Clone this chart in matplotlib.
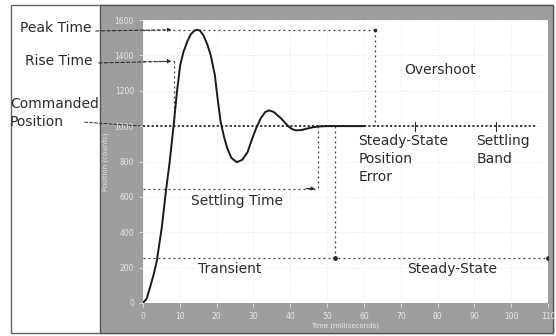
import matplotlib
matplotlib.use("Agg")
import matplotlib.pyplot as plt
from matplotlib.patches import Rectangle

# step response (time in ms, position in counts)
time_ms = [0, 1, 1.9, 3, 3.75, 5.1, 6.3, 7.2, 8.3, 9.2, 10.1, 11, 12, 13, 14,
           14.7, 15.5, 16.5, 17.5, 18.4, 19.5, 20.3, 21.1, 22, 22.9, 24, 25.5,
           27, 28.4, 29.5, 30.7, 32, 33.2, 34.3, 35.5, 36.5, 37.5, 38.6, 39.7,
           40.6, 41.6, 43, 44.8, 46, 47.6, 50, 60]
position = [0, 25, 87, 170, 238, 427, 645, 790, 1000, 1190, 1345, 1420, 1477,
            1520, 1540, 1545, 1540, 1510, 1460, 1400, 1290, 1150, 1023, 940,
            874, 820, 796, 810, 853, 920, 987, 1045, 1080, 1089, 1080, 1062,
            1044, 1018, 995, 982, 976, 978, 987, 993, 998, 1000, 1000]

commanded = 1000
peak_level = 1545
rise_level = 1367
settle_level = 647
transient_level = 255
rise_t = 8.3
settle_t = 47.5
steady_t = 52.2
overshoot_t = 63
band_marks = [74, 96]

x_ticks = list(range(0, 111, 10))
y_ticks = list(range(0, 1601, 200))

W, H = 556, 336
GRAY = "#9e9e9e"
INK = "#2b2b2b"


def fx(x):
    return x / W


def fy(y):
    return 1 - y / H


fig = plt.figure(figsize=(W / 100, H / 100), dpi=100)
fig.patch.set_facecolor("white")

# outer frame and gray chart panel
fig.add_artist(Rectangle((fx(11), fy(333)), fx(542), 328 / H, transform=fig.transFigure,
                         facecolor="white", edgecolor="#666666", lw=1.0, zorder=-2))
fig.add_artist(Rectangle((fx(100), fy(333)), fx(453), 328 / H, transform=fig.transFigure,
                         facecolor=GRAY, edgecolor="#555555", lw=1.0, zorder=-1))

ax = fig.add_axes([fx(143), fy(303), fx(548 - 143), (303 - 20) / H])
ax.set_facecolor("white")
ax.set_xlim(0, 110)
ax.set_ylim(0, 1600)
ax.set_xticks(x_ticks)
ax.set_yticks(y_ticks)
ax.tick_params(colors="#e6e6e6", labelsize=5.5, length=3, width=0.6)
for s in ax.spines.values():
    s.set_visible(False)
ax.grid(True, color="#e4e4e4", lw=0.5, ls=(0, (2, 3)))
ax.set_xlabel("Time (milliseconds)", fontsize=5, color="#e6e6e6", labelpad=1)
ax.set_ylabel("Position (counts)", fontsize=5, color="#e6e6e6", labelpad=4)

dot = dict(color="#3a3a3a", lw=0.9, ls=(0, (1.5, 2.5)))

# commanded position line
ax.plot([0, 107], [commanded, commanded], color=INK, lw=1.3, ls=(0, (1.2, 1.2)), zorder=3)
for t in band_marks:
    ax.plot([t, t], [commanded - 25, commanded + 25], color=INK, lw=0.8, zorder=3)

# response curve
ax.plot(time_ms, position, color="#1a1a1a", lw=1.4, zorder=4)

# peak / overshoot
ax.plot([0, overshoot_t], [peak_level, peak_level], **dot)
ax.plot([overshoot_t, overshoot_t], [peak_level, commanded], **dot)
ax.plot(overshoot_t, peak_level, "s", ms=2, color=INK)
# rise time
ax.plot([0, rise_t], [rise_level, rise_level], **dot)
ax.plot([rise_t, rise_t], [rise_level, commanded], **dot)
# settling time
ax.plot([0, settle_t], [settle_level, settle_level], **dot)
ax.plot([settle_t, settle_t], [commanded, settle_level], **dot)
ax.annotate("", xy=(settle_t, settle_level), xytext=(settle_t - 4, settle_level),
            arrowprops=dict(arrowstyle="-|>", color=INK, lw=0.8, mutation_scale=5))
# transient / steady-state
ax.plot([0, 110], [transient_level, transient_level], **dot)
ax.plot([steady_t, steady_t], [commanded, transient_level], **dot)
ax.plot([steady_t, 110], [transient_level, transient_level], "o", ms=2.5, color=INK)

fs = 10
ax.text(80.7, 1316, "Overshoot", fontsize=fs, color=INK, ha="center", va="center")
ax.text(58.5, 958, "Steady-State\nPosition\nError", fontsize=fs, color=INK,
        ha="left", va="top", linespacing=1.4)
ax.text(90.5, 958, "Settling\nBand", fontsize=fs, color=INK, ha="left", va="top",
        linespacing=1.4)
ax.text(25.5, 579, "Settling Time", fontsize=fs, color=INK, ha="center", va="center")
ax.text(23.5, 193, "Transient", fontsize=fs, color=INK, ha="center", va="center")
ax.text(84, 193, "Steady-State", fontsize=fs, color=INK, ha="center", va="center")

# labels on the left with dashed leaders (tucked under the gray panel edge)
fig.text(fx(20), fy(28), "Peak Time", fontsize=fs, color=INK, va="center")
fig.text(fx(25), fy(61), "Rise Time", fontsize=fs, color=INK, va="center")
fig.text(fx(10), fy(113), "Commanded\nPosition", fontsize=fs, color=INK, va="center",
         linespacing=1.35, zorder=-1.5)

lead = dict(arrowstyle="-|>", color=INK, lw=0.8, ls=(0, (3, 2)), mutation_scale=5)
ax.annotate("", xy=(8.5, peak_level), xycoords="data",
            xytext=(fx(93), fy(31)), textcoords="figure fraction", arrowprops=lead)
ax.annotate("", xy=(8.5, rise_level), xycoords="data",
            xytext=(fx(96), fy(63)), textcoords="figure fraction", arrowprops=lead)
ax.annotate("", xy=(0, commanded), xycoords="data",
            xytext=(fx(82), fy(122)), textcoords="figure fraction",
            arrowprops=dict(arrowstyle="-", color=INK, lw=0.7, ls=(0, (3, 2))))

fig.savefig("out.png", dpi=100)
